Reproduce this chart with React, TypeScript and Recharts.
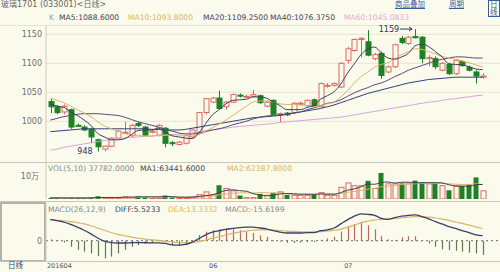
import React from "react";
import {
  ComposedChart,
  Bar,
  Line,
  XAxis,
  YAxis,
  CartesianGrid,
  ReferenceLine,
  ReferenceDot,
} from "recharts";

// trading days, 2016-04-27 .. 2016-07-29
const dates = [
  "2016-04-27", "2016-04-28", "2016-04-29",
  "2016-05-03", "2016-05-04", "2016-05-05", "2016-05-06", "2016-05-09", "2016-05-10", "2016-05-11",
  "2016-05-12", "2016-05-13", "2016-05-16", "2016-05-17", "2016-05-18", "2016-05-19", "2016-05-20",
  "2016-05-23", "2016-05-24", "2016-05-25", "2016-05-26", "2016-05-27", "2016-05-30", "2016-05-31",
  "2016-06-01", "2016-06-02", "2016-06-03", "2016-06-06", "2016-06-07", "2016-06-08", "2016-06-13",
  "2016-06-14", "2016-06-15", "2016-06-16", "2016-06-17", "2016-06-20", "2016-06-21", "2016-06-22",
  "2016-06-23", "2016-06-24", "2016-06-27", "2016-06-28", "2016-06-29", "2016-06-30",
  "2016-07-01", "2016-07-04", "2016-07-05", "2016-07-06", "2016-07-07", "2016-07-08", "2016-07-11",
  "2016-07-12", "2016-07-13", "2016-07-14", "2016-07-15", "2016-07-18", "2016-07-19", "2016-07-20",
  "2016-07-21", "2016-07-22", "2016-07-25", "2016-07-26", "2016-07-27", "2016-07-28", "2016-07-29",
];

const opens = [1034, 1025, 1016, 1020, 993, 990, 986, 968, 952, 957, 971, 980, 975, 996, 990, 981, 976, 988, 963, 960, 962, 973, 979, 1015, 1033, 1040, 1025, 1033, 1045, 1042, 1043, 1044, 1026, 1036, 1012, 1014, 1015, 1030, 1027, 1037, 1025, 1062, 1062, 1059, 1105, 1122, 1141, 1137, 1108, 1117, 1085, 1094, 1143, 1134, 1146, 1145, 1108, 1108, 1088, 1098, 1082, 1103, 1093, 1085, 1076];
const highs = [1040, 1028, 1029, 1022, 996, 993, 989, 970, 958, 972, 985, 999, 995, 999, 992, 986, 995, 990, 966, 966, 976, 986, 1016, 1040, 1042, 1053, 1035, 1048, 1048, 1046, 1054, 1046, 1036, 1038, 1015, 1016, 1033, 1034, 1038, 1039, 1067, 1066, 1067, 1102, 1128, 1143, 1145, 1157, 1118, 1120, 1096, 1134, 1147, 1147, 1159, 1147, 1114, 1112, 1102, 1101, 1106, 1105, 1096, 1088, 1083];
const lows = [1014, 1012, 1012, 987, 990, 983, 962, 948, 948, 955, 969, 978, 973, 990, 974, 979, 974, 955, 957, 958, 960, 971, 977, 1012, 1031, 1020, 1020, 1031, 1041, 1040, 1041, 1030, 1024, 1010, 999, 1009, 1013, 1028, 1025, 1024, 1023, 1058, 1060, 1057, 1100, 1120, 1110, 1112, 1105, 1073, 1083, 1092, 1133, 1132, 1143, 1100, 1095, 1090, 1086, 1080, 1080, 1094, 1086, 1065, 1073];
const closes = [1025, 1015, 1026, 990, 992, 985, 973, 956, 957, 971, 983, 981, 993, 993, 976, 983, 993, 962, 962, 964, 975, 985, 1015, 1039, 1040, 1022, 1033, 1046, 1044, 1043, 1046, 1032, 1033, 1012, 1013, 1011, 1031, 1031, 1036, 1026, 1065, 1062, 1065, 1100, 1125, 1141, 1143, 1114, 1115, 1079, 1094, 1132, 1136, 1145, 1144, 1108, 1110, 1094, 1100, 1082, 1105, 1096, 1088, 1078, 1078];

const ma5 = [1030, 1026, 1024, 1016, 1010, 1002, 993, 979, 973, 968, 968, 970, 977, 984, 985, 985, 988, 981, 975, 973, 971, 970, 980, 996, 1011, 1020, 1030, 1036, 1037, 1038, 1042, 1042, 1040, 1033, 1027, 1020, 1020, 1020, 1024, 1027, 1038, 1044, 1051, 1064, 1083, 1099, 1115, 1125, 1128, 1118, 1109, 1107, 1111, 1117, 1130, 1133, 1129, 1120, 1111, 1099, 1098, 1097, 1094, 1090, 1089];
const ma10 = [1040, 1036, 1032, 1026, 1020, 1014, 1008, 999, 992, 987, 983, 979, 976, 976, 974, 974, 976, 976, 977, 976, 976, 976, 978, 983, 989, 995, 1002, 1010, 1018, 1026, 1033, 1035, 1035, 1033, 1030, 1029, 1029, 1028, 1027, 1025, 1027, 1030, 1033, 1042, 1053, 1066, 1077, 1085, 1093, 1098, 1101, 1108, 1115, 1120, 1125, 1124, 1120, 1116, 1112, 1109, 1107, 1104, 1101, 1097, 1094];
const ma20 = [1002, 1005, 1008, 1010, 1012, 1013, 1013, 1013, 1012, 1011, 1010, 1007, 1003, 999, 996, 993, 990, 986, 983, 980, 978, 978, 980, 982, 985, 987, 990, 994, 997, 1000, 1004, 1007, 1009, 1010, 1011, 1012, 1014, 1016, 1020, 1023, 1027, 1031, 1033, 1037, 1043, 1049, 1054, 1058, 1063, 1066, 1071, 1077, 1082, 1088, 1092, 1096, 1100, 1104, 1107, 1109, 1111, 1111, 1110, 1109, 1109];
const ma40 = [982, 983, 984, 985, 986, 987, 987, 987, 987, 987, 987, 987, 987, 987, 987, 986, 986, 985, 985, 985, 986, 988, 990, 992, 994, 996, 998, 1000, 1002, 1004, 1006, 1007, 1008, 1009, 1010, 1012, 1014, 1016, 1018, 1020, 1022, 1025, 1028, 1032, 1036, 1040, 1044, 1048, 1051, 1054, 1057, 1060, 1063, 1066, 1068, 1070, 1072, 1073, 1074, 1075, 1076, 1076, 1076, 1076, 1076];
const ma60 = [950, 952, 955, 957, 959, 961, 963, 965, 967, 968, 970, 971, 972, 973, 974, 975, 975, 976, 977, 978, 979, 980, 982, 984, 985, 987, 988, 990, 991, 992, 993, 994, 995, 996, 998, 999, 1000, 1001, 1002, 1003, 1004, 1005, 1006, 1007, 1009, 1011, 1013, 1015, 1017, 1019, 1021, 1023, 1025, 1027, 1029, 1031, 1033, 1034, 1036, 1038, 1039, 1041, 1042, 1044, 1045];

const volumes = [4500, 4500, 4500, 4500, 4500, 4500, 6000, 12000, 6000, 4500, 4500, 12000, 9000, 12000, 9000, 4500, 6000, 15000, 6000, 6000, 6000, 9000, 21000, 33000, 21000, 60000, 48000, 38000, 15000, 8000, 8000, 22000, 18000, 27000, 33000, 18000, 18000, 18000, 18000, 21000, 30000, 18000, 18000, 53000, 72000, 60000, 60000, 79000, 48000, 113000, 68000, 68000, 68000, 68000, 80000, 72000, 68000, 68000, 60000, 38000, 57000, 57000, 64000, 94000, 37782];
const volMa1 = [5000, 5000, 4800, 4600, 4500, 4500, 4800, 6300, 6600, 6600, 6600, 7800, 8400, 9000, 9600, 9400, 9100, 11000, 10000, 8000, 7400, 8400, 11000, 15000, 18000, 29000, 37000, 40000, 36000, 34000, 23000, 18000, 14000, 17000, 22000, 24000, 23000, 21000, 21000, 20000, 22000, 21000, 21000, 28000, 38000, 44000, 53000, 65000, 64000, 72000, 74000, 69000, 73000, 73000, 70000, 71000, 71000, 71000, 70000, 62000, 57000, 56000, 55000, 62000, 63400];
const volMa2 = [5200, 5100, 5000, 4900, 4800, 4800, 4800, 5400, 5600, 5600, 5600, 6300, 6600, 6800, 7200, 7900, 8300, 9400, 9300, 8800, 8500, 8700, 9700, 11500, 12800, 18000, 22000, 25000, 27000, 27000, 26000, 28000, 27000, 26000, 28000, 23000, 20000, 19000, 20000, 21000, 22000, 22000, 21000, 24000, 29000, 33000, 37000, 43000, 46000, 53000, 56000, 59000, 63000, 65000, 66000, 68000, 68000, 69000, 68000, 66000, 64000, 63000, 63000, 66000, 62400];

const diff = [23.5, 22, 20.5, 18, 15, 11.5, 7.5, 3, -0.5, -2, -2.5, -2.5, -2.2, -2, -2.2, -2.3, -2.3, -3, -4.5, -4.8, -4, -1.5, 2.5, 6.5, 9.5, 11, 12.5, 13.5, 14.5, 15, 15, 14, 13, 11, 9.5, 8.5, 8.5, 8.5, 9, 9, 11, 12, 14, 18.5, 23, 27, 29.5, 29, 28, 24.5, 23.5, 25.5, 27, 28, 28.5, 26.5, 24, 21, 18.5, 15.5, 13.5, 11, 9, 6.5, 5.52];
const dea = [22.8, 22.5, 22, 21, 20, 18.5, 16.5, 14, 11.5, 9, 7, 5.5, 4, 2.8, 1.8, 1, 0.3, -0.5, -1.3, -2, -2.3, -2.1, -1, 0.8, 2.8, 4.5, 6.3, 8, 9.5, 10.6, 11.5, 12, 12, 11.8, 11.2, 10.6, 10.2, 9.9, 9.8, 9.8, 10, 10.5, 11.3, 12.7, 14.8, 17.2, 19.6, 21.5, 23, 23.5, 24, 24.5, 25.2, 26, 26.5, 26.5, 26, 25, 23.8, 22.3, 20.6, 19, 17.2, 15.3, 13.33];
const macdHist = [1.5, 1, -2, -6.6, -10, -12, -14, -17, -19.5, -17.5, -14, -10, -6.6, -4.8, -3, -2.2, -0.7, -1, -4.8, -5.9, -4.8, 0.7, 6.2, 10, 11.7, 12.5, 13.5, 12.5, 11.7, 10, 8.5, 6, 4.4, 1, -1, -2.2, -2.5, -2, -1.5, -1.5, 1, 2.6, 4.4, 10, 15.4, 18.3, 21, 17, 12.5, 5, 1.5, 1, 3.7, 5, 5, 0.5, -3, -6.6, -9.5, -10.3, -11, -12, -13.2, -14, -15.6];

const priceTicks = [1000, 1050, 1100, 1150];
const monthTicks = ["2016-04-27", "2016-06-01", "2016-07-01"];
const monthLabels = ["201604", "06", "07"];

const BG = "#fbfbed";
const UP = "#e0675f";
const DOWN = "#1d8224";
const FONT = '"DejaVu Sans", "Noto Sans CJK SC", sans-serif';

const rows = dates.map((date, i) => ({
  date,
  open: opens[i],
  high: highs[i],
  low: lows[i],
  close: closes[i],
  range: [lows[i], highs[i]],
  ma5: ma5[i],
  ma10: ma10[i],
  ma20: ma20[i],
  ma40: ma40[i],
  ma60: ma60[i],
  vol: volumes[i],
  volMa1: volMa1[i],
  volMa2: volMa2[i],
  diff: diff[i],
  dea: dea[i],
  hist: macdHist[i],
}));

const hiIdx = highs.indexOf(Math.max(...highs));
const loIdx = lows.indexOf(Math.min(...lows));

const Candle = (props: any) => {
  const { x, y, width, height, payload } = props;
  const { open, close, high, low } = payload;
  const up = close >= open;
  const k = high > low ? height / (high - low) : 0;
  const cx = Math.round(x + width / 2) + 0.5;
  const yO = y + (high - open) * k;
  const yC = y + (high - close) * k;
  const top = Math.min(yO, yC);
  const bh = Math.max(1, Math.abs(yO - yC));
  const color = up ? UP : DOWN;
  return (
    <g>
      <line x1={cx} x2={cx} y1={y} y2={y + height} stroke={color} />
      <rect x={cx - 2.5} y={top} width={5} height={bh} fill={up ? BG : color} stroke={color} />
    </g>
  );
};

const VolBar = (props: any) => {
  const { x, y, width, height, payload } = props;
  const up = payload.close >= payload.open;
  const cx = Math.round(x + width / 2);
  const h = Math.max(1, height);
  return up ? (
    <rect x={cx - 2} y={y + 0.5} width={5} height={h - 0.5} fill={BG} stroke={UP} />
  ) : (
    <rect x={cx - 2.5} y={y} width={5} height={h} fill={DOWN} />
  );
};

const HistBar = (props: any) => {
  const { x, y, width, height, payload } = props;
  const cx = Math.round(x + width / 2) + 0.5;
  return (
    <line x1={cx} x2={cx} y1={y} y2={y + height} stroke={payload.hist >= 0 ? "#b9675f" : "#5e7a52"} strokeWidth={1.2} />
  );
};

const HighMark = (props: any) => {
  const { cx, cy } = props;
  return (
    <g>
      <text x={cx - 16} y={cy} dy="0.35em" textAnchor="end" fontSize={8} fontFamily={FONT} fill="#2d3550">
        {highs[hiIdx]}
      </text>
      <path d={`M${cx - 15},${cy} H${cx - 3} M${cx - 6},${cy - 2} L${cx - 3},${cy} L${cx - 6},${cy + 2}`} stroke="#2d3550" fill="none" />
    </g>
  );
};

const LowMark = (props: any) => {
  const { cx, cy } = props;
  return (
    <text x={cx - 5} y={cy} dy="0.35em" textAnchor="end" fontSize={8} fontFamily={FONT} fill="#2d3550">
      {lows[loIdx]}
    </text>
  );
};

const MonthTick = (props: any) => {
  const { x, y, payload } = props;
  const i = monthTicks.indexOf(payload.value);
  return (
    <text x={x - 3.4} y={y} dy="0.71em" textAnchor="start" fontSize={6.5} fontFamily={FONT} fill="#555">
      {monthLabels[i]}
    </text>
  );
};

const xPad = { left: 1, right: 14 };
const tickStyle = { fontSize: 8, fill: "#6d6d6d", fontFamily: FONT };

const txt = (left: number, top: number, color: string, s: string, size = 7.6) => (
  <span style={{ position: "absolute", left, top, color, fontSize: size, lineHeight: 1, whiteSpace: "nowrap" }}>{s}</span>
);

const hLine = (top: number, color: string) => (
  <div style={{ position: "absolute", left: 0, top, width: 500, height: 1, background: color }} />
);

export default function App() {
  return (
    <div style={{ position: "fixed", left: 0, top: 0, width: 500, height: 272, background: BG, overflow: "hidden", fontFamily: FONT }}>
      {/* header */}
      {txt(1, 1, "#666", "玻璃1701 (033001)<日线>", 8)}
      <span style={{ position: "absolute", left: 395, top: 1, fontSize: 7.5, lineHeight: 1, color: "#3b5b9b", textDecoration: "underline" }}>商品叠加</span>
      <span style={{ position: "absolute", left: 449, top: 1, fontSize: 7.5, lineHeight: 1, color: "#3b5b9b", textDecoration: "underline" }}>周期</span>
      <span style={{ position: "absolute", left: 488, top: 0, fontSize: 7.5, lineHeight: 1, color: "#3b5b9b", border: "1px solid #3b5b9b", padding: "0 1px" }}>日线</span>

      {/* price legend */}
      {txt(49, 14, "#999", "K")}
      {txt(59, 14, "#3b3f52", "MA5:1088.6000")}
      {txt(128, 14, "#e0b454", "MA10:1093.8000")}
      {txt(203, 14, "#463d66", "MA20:1109.2500")}
      {txt(270, 14, "#3b3f52", "MA40:1076.3750")}
      {txt(344, 14, "#e8aad2", "MA60:1045.0833")}

      {hLine(25, "#e6e3cf")}
      <div style={{ position: "absolute", left: 0, top: 25 }}>
        <ComposedChart width={500} height={138} data={rows} margin={{ top: 0, right: 0, bottom: 0, left: 0 }}>
          <CartesianGrid vertical={false} stroke="#e7e4cf" />
          <XAxis dataKey="date" hide padding={xPad} />
          <YAxis width={46} domain={[928, 1166]} ticks={priceTicks} interval={0} tickLine={false} tickSize={2} tickMargin={2} axisLine={{ stroke: "#cfccb8" }} tick={tickStyle} />
          <Bar dataKey="range" barSize={5} shape={<Candle />} isAnimationActive={false} />
          <Line dataKey="ma60" type="monotone" stroke="#d6a6d9" strokeWidth={1} dot={false} activeDot={false} isAnimationActive={false} />
          <Line dataKey="ma40" type="monotone" stroke="#2e3f7d" strokeWidth={1} dot={false} activeDot={false} isAnimationActive={false} />
          <Line dataKey="ma20" type="monotone" stroke="#584a7e" strokeWidth={1} dot={false} activeDot={false} isAnimationActive={false} />
          <Line dataKey="ma10" type="monotone" stroke="#dcb46a" strokeWidth={1} dot={false} activeDot={false} isAnimationActive={false} />
          <Line dataKey="ma5" type="monotone" stroke="#3b3f52" strokeWidth={1} dot={false} activeDot={false} isAnimationActive={false} />
          <ReferenceDot x={dates[hiIdx]} y={highs[hiIdx]} r={0} shape={HighMark} />
          <ReferenceDot x={dates[loIdx]} y={lows[loIdx]} r={0} shape={LowMark} />
        </ComposedChart>
      </div>
      {hLine(162, "#c9c6b4")}

      {/* volume */}
      {txt(48, 165, "#8a8a8a", "VOL(5,10) 37782.0000")}
      {txt(140, 165, "#3b3f52", "MA1:63441.6000")}
      {txt(227, 165, "#e0b454", "MA2:62387.8000")}
      <div style={{ position: "absolute", left: 0, top: 163 }}>
        <ComposedChart width={500} height={36} data={rows} margin={{ top: 0, right: 0, bottom: 0, left: 0 }}>
          <XAxis dataKey="date" hide padding={xPad} />
          <YAxis width={46} domain={[0, 156500]} ticks={[100000]} interval={0} tickFormatter={() => "10万"} tickLine={false} tickSize={5} tickMargin={2} axisLine={{ stroke: "#cfccb8" }} tick={tickStyle} />
          <Bar dataKey="vol" barSize={5} shape={<VolBar />} isAnimationActive={false} />
          <Line dataKey="volMa2" type="monotone" stroke="#dcb46a" strokeWidth={1} dot={false} activeDot={false} isAnimationActive={false} />
          <Line dataKey="volMa1" type="monotone" stroke="#3b3f52" strokeWidth={1} dot={false} activeDot={false} isAnimationActive={false} />
        </ComposedChart>
      </div>
      {hLine(201, "#c9c6b4")}

      {/* macd */}
      <div style={{ position: "absolute", left: 0, top: 202, width: 46, height: 60, border: "2px solid #b3b2a8", boxSizing: "border-box" }} />
      {txt(48, 206, "#8a8a8a", "MACD(26,12,9)")}
      {txt(115, 206, "#3b3f52", "DIFF:5.5233")}
      {txt(168, 206, "#e0b454", "DEA:13.3332")}
      {txt(225, 206, "#8a8a8a", "MACD:-15.6199")}
      <div style={{ position: "absolute", left: 0, top: 202 }}>
        <ComposedChart width={500} height={70} data={rows} margin={{ top: 0, right: 0, bottom: 0, left: 0 }}>
          <XAxis dataKey="date" height={10} padding={xPad} ticks={monthTicks} interval={0} tickLine={false} axisLine={false} tickSize={0} tickMargin={1} tick={<MonthTick />} />
          <YAxis width={46} domain={[-23.4, 42.6]} ticks={[0]} interval={0} tickLine={false} tickSize={2} tickMargin={2} axisLine={{ stroke: "#cfccb8" }} tick={tickStyle} />
          <ReferenceLine y={0} stroke="#666" strokeDasharray="2 3" />
          <Bar dataKey="hist" barSize={1} shape={<HistBar />} isAnimationActive={false} />
          <Line dataKey="dea" type="monotone" stroke="#d9b56c" strokeWidth={1.2} dot={false} activeDot={false} isAnimationActive={false} />
          <Line dataKey="diff" type="monotone" stroke="#3b3f68" strokeWidth={1.3} dot={false} activeDot={false} isAnimationActive={false} />
        </ComposedChart>
      </div>
      {hLine(261, "#c9c6b4")}
      {txt(8, 262, "#33415e", "日线", 7.5)}
    </div>
  );
}
